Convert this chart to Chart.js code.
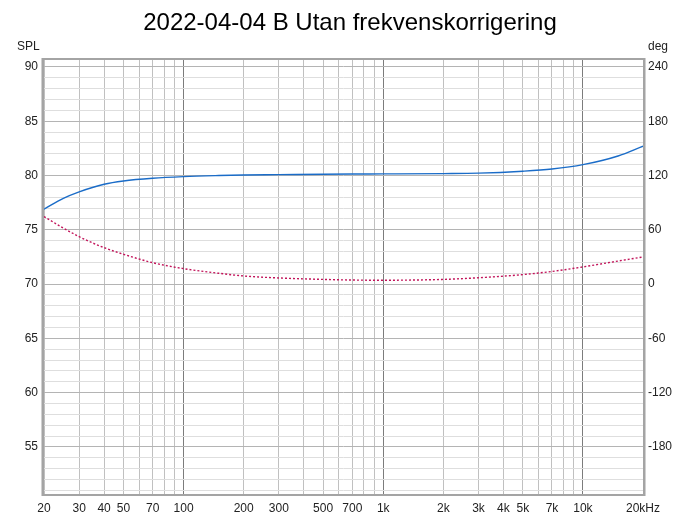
<!DOCTYPE html>
<html>
<head>
<meta charset="utf-8">
<script src="https://cdn.jsdelivr.net/npm/chart.js@4/dist/chart.umd.min.js"></script>
<style>
  html, body { margin:0; padding:0; background:#fff; }
  #wrap { width:700px; height:518px; }
</style>
</head>
<body>
<div id="wrap"><canvas id="c" width="700" height="518"></canvas></div>
<script>
const TITLE = '2022-04-04 B Utan frekvenskorrigering';

// frequency points (Hz)
const freqs = [20, 25, 30, 40, 50, 70, 100, 150, 200, 300, 500, 700, 1000, 2000, 3000, 5000, 7000, 10000, 15000, 20000];
// SPL (dB) - blue solid
const spl = [76.9, 77.9, 78.5, 79.2, 79.5, 79.75, 79.9, 80.0, 80.05, 80.08, 80.12, 80.14, 80.15, 80.18, 80.22, 80.4, 80.6, 81.0, 81.8, 82.7];
// phase (deg) - red dotted
const phase = [74.6, 62, 52.4, 40.3, 33, 23.7, 17.1, 12, 9, 6.8, 5.2, 4.5, 4.3, 5.2, 7, 10.5, 14, 19, 25.5, 30];

// x grid lines and labels
const xGrid = [20,30,40,50,60,70,80,90,100,200,300,400,500,600,700,800,900,1000,2000,3000,4000,5000,6000,7000,8000,9000,10000,20000];
const xLabels = {20:'20',30:'30',40:'40',50:'50',70:'70',100:'100',200:'200',300:'300',500:'500',700:'700',
  1000:'1k',2000:'2k',3000:'3k',4000:'4k',5000:'5k',7000:'7k',10000:'10k',20000:'20kHz'};
const splTicks = [51,52,53,54,55,56,57,58,59,60,61,62,63,64,65,66,67,68,69,70,71,72,73,74,75,76,77,78,79,80,81,82,83,84,85,86,87,88,89,90];
const degTicks = [-180, -120, -60, 0, 60, 120, 180, 240];

const SPL_MIN = 50.67, SPL_MAX = 90.64;
const DEG_MIN = (SPL_MIN - 80) * 12 + 120, DEG_MAX = (SPL_MAX - 80) * 12 + 120;

const font = "'Liberation Sans', Arial, sans-serif";

const frame = {
  id: 'frame',
  afterDraw(chart){
    const {ctx, chartArea:a} = chart;
    ctx.save();
    ctx.strokeStyle = '#a4a4a4';
    ctx.lineWidth = 2;
    ctx.strokeRect(a.left - 1, a.top - 1, a.right - a.left + 2, a.bottom - a.top + 2);
    ctx.strokeStyle = '#d0d0d0';
    ctx.lineWidth = 1;
    ctx.beginPath();
    ctx.moveTo(a.left - 2.5, a.top - 2); ctx.lineTo(a.left - 2.5, a.bottom + 2);
    ctx.moveTo(a.right + 2.5, a.top - 2); ctx.lineTo(a.right + 2.5, a.bottom + 2);
    ctx.stroke();
    ctx.fillStyle = '#000';
    ctx.font = '24px ' + font;
    ctx.textAlign = 'center';
    ctx.textBaseline = 'middle';
    ctx.fillText(TITLE, 350, 23);
    ctx.font = '12px ' + font;
    ctx.fillStyle = '#222';
    ctx.textAlign = 'left';
    ctx.fillText('SPL', 17, 47);
    ctx.fillText('deg', 648, 47);
    ctx.restore();
  }
};

new Chart(document.getElementById('c'), {
  type: 'line',
  data: {
    datasets: [
      {
        label: 'SPL',
        data: freqs.map((f, i) => ({x: f, y: spl[i]})),
        borderColor: '#1a6cc8',
        borderWidth: 1.4,
        pointRadius: 0,
        cubicInterpolationMode: 'monotone',
        yAxisID: 'y'
      },
      {
        label: 'Phase',
        data: freqs.map((f, i) => ({x: f, y: phase[i]})),
        borderColor: '#c2145a',
        borderWidth: 1.4,
        borderDash: [2, 2],
        pointRadius: 0,
        cubicInterpolationMode: 'monotone',
        yAxisID: 'y2'
      }
    ]
  },
  options: {
    responsive: false,
    animation: false,
    layout: { padding: { left: 0, right: 0, top: 60, bottom: 0 } },
    plugins: { legend: { display: false }, tooltip: { enabled: false } },
    scales: {
      x: {
        type: 'logarithmic',
        min: 20, max: 20000,
        afterBuildTicks: ax => { ax.ticks = xGrid.map(v => ({value: v})); },
        afterFit: ax => { ax.height = 24; },
        border: { display: false },
        grid: {
          color: c => [100, 1000, 10000].includes(c.tick && c.tick.value) ? '#7c7c7c' : '#c0c0c0',
          lineWidth: 1,
          drawTicks: false
        },
        ticks: {
          autoSkip: false, maxRotation: 0, padding: 7,
          color: '#222', font: { family: font, size: 12 },
          callback: v => xLabels[v] || ''
        }
      },
      y: {
        position: 'left',
        min: SPL_MIN, max: SPL_MAX,
        afterBuildTicks: ax => { ax.ticks = splTicks.map(v => ({value: v})); },
        afterFit: ax => { ax.width = 44; },
        border: { display: false },
        grid: {
          color: c => (c.tick && c.tick.value % 5 === 0) ? '#b4b4b4' : '#dedede',
          lineWidth: 1,
          drawTicks: false
        },
        ticks: {
          autoSkip: false, padding: 6,
          color: '#222', font: { family: font, size: 12 },
          callback: v => (v % 5 === 0 ? String(v) : '')
        }
      },
      y2: {
        position: 'right',
        min: DEG_MIN, max: DEG_MAX,
        afterBuildTicks: ax => { ax.ticks = degTicks.map(v => ({value: v})); },
        afterFit: ax => { ax.width = 57; },
        border: { display: false },
        grid: { display: false, drawTicks: false },
        ticks: {
          autoSkip: false, padding: 5,
          color: '#222', font: { family: font, size: 12 },
          callback: v => String(v)
        }
      }
    }
  },
  plugins: [frame]
});
</script>
</body>
</html>
